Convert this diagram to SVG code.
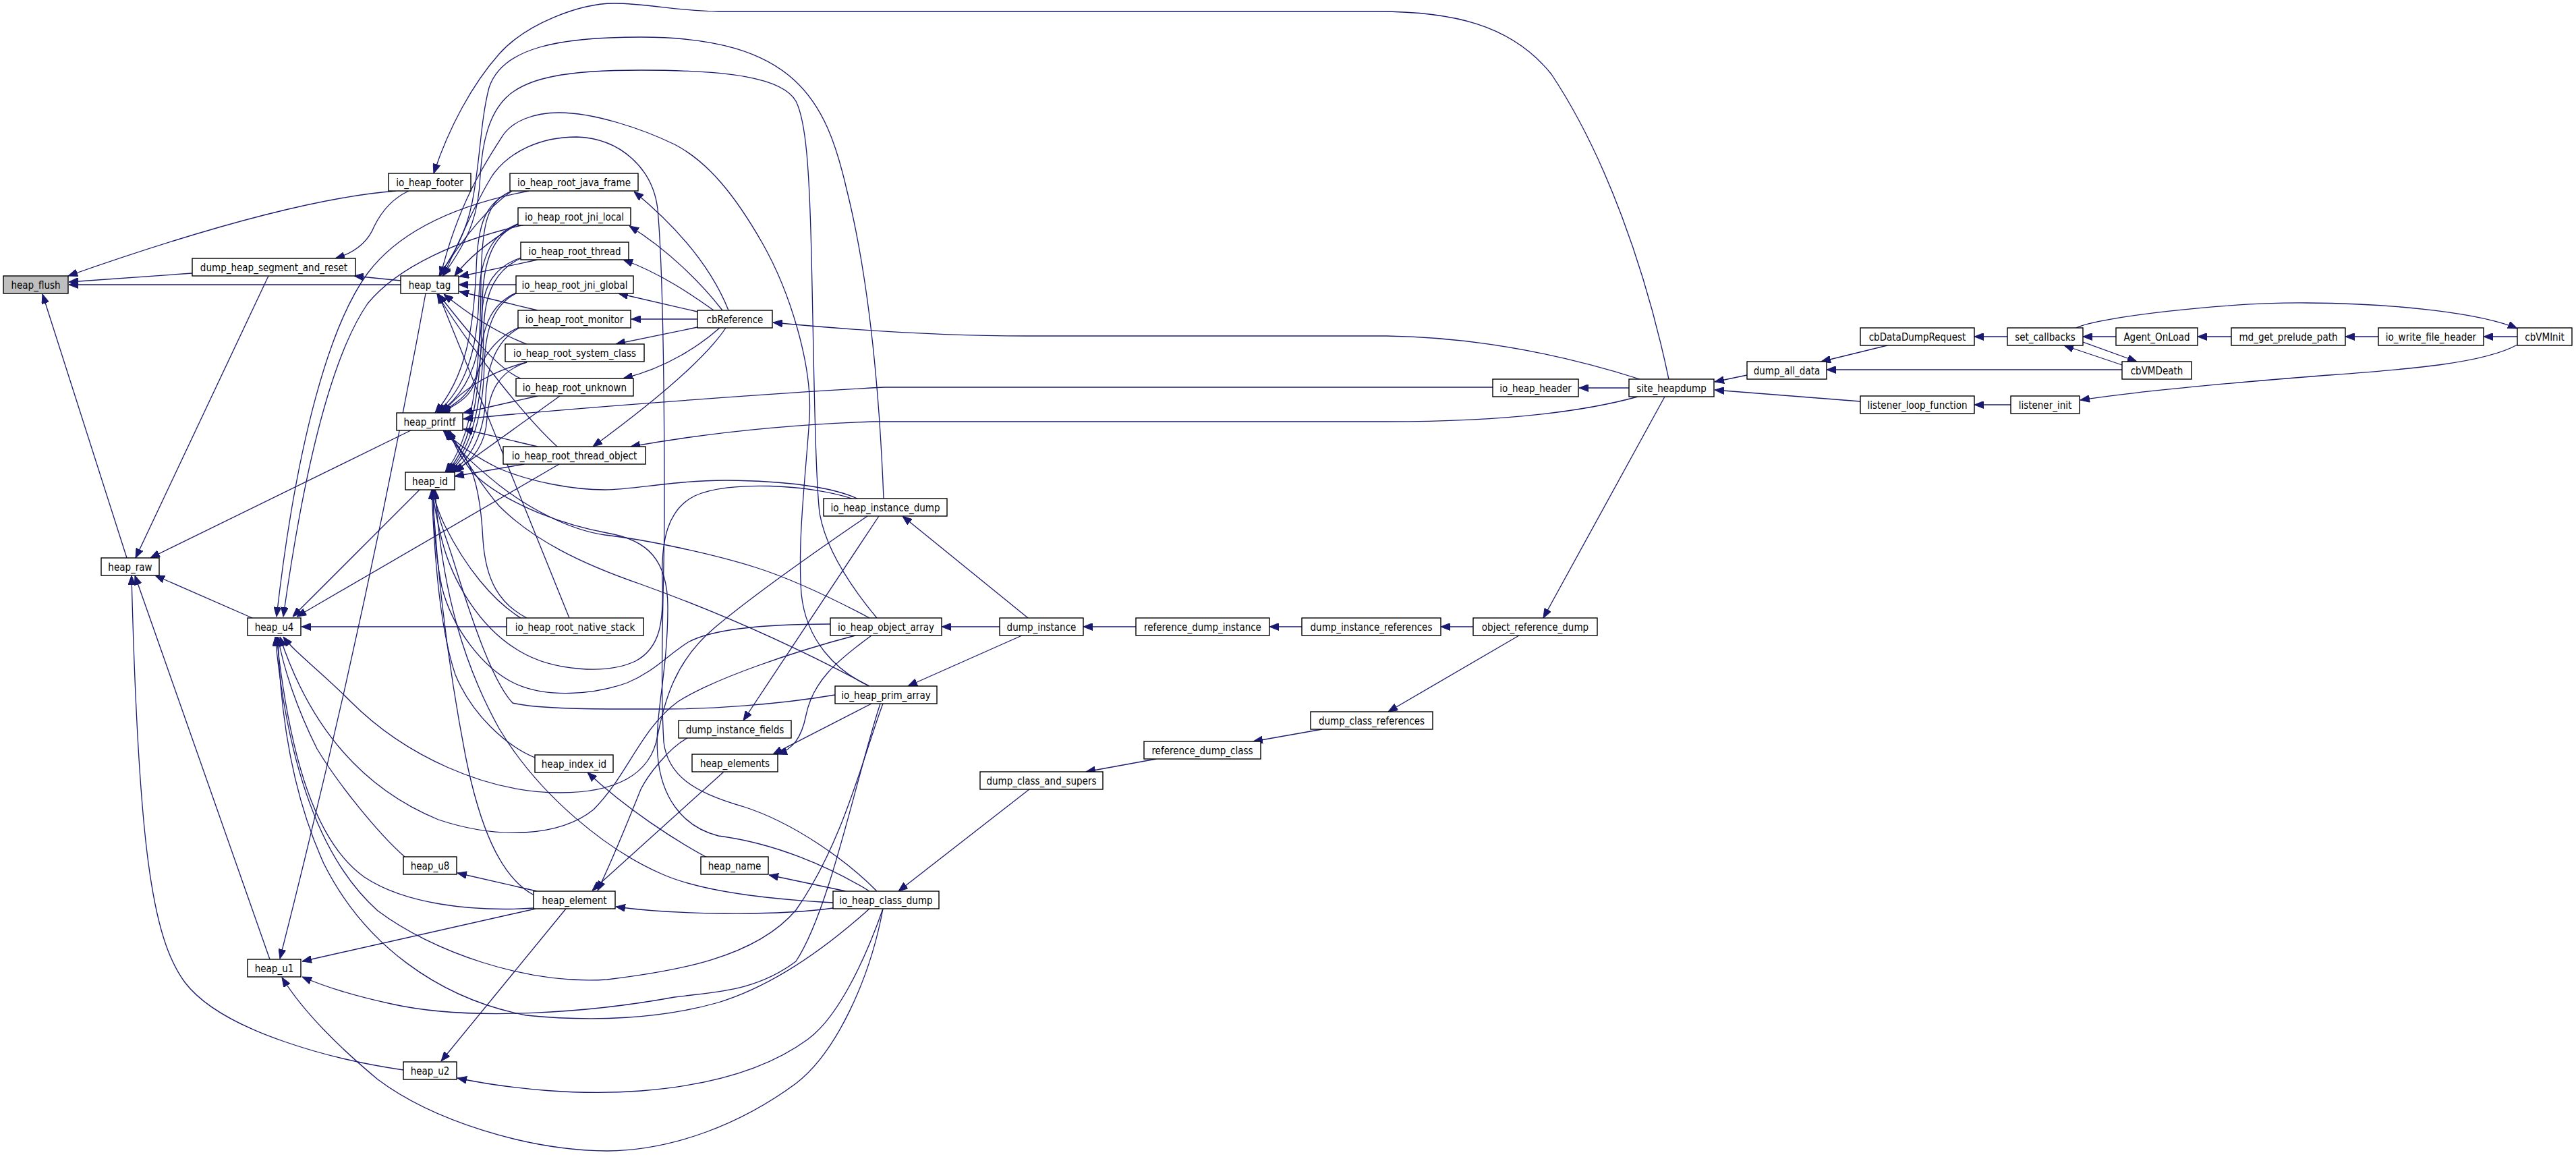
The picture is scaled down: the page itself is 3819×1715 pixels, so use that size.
<svg xmlns="http://www.w3.org/2000/svg" width="3819" height="1715" viewBox="0 0 3819 1715">
<style>
.e{fill:none;stroke:#191970;stroke-width:1.3;marker-end:url(#a)}
.n rect{fill:#fff;stroke:#000;stroke-width:1.4}
.n.g rect{fill:#bfbfbf}
.n text{font-family:"DejaVu Sans Condensed","DejaVu Sans",sans-serif;font-size:15px;text-anchor:middle;fill:#000}
</style>
<defs>
<marker id="a" markerUnits="userSpaceOnUse" markerWidth="14" markerHeight="11" refX="14" refY="5.5" orient="auto">
<path d="M0,0 L14,5.5 L0,11 z" fill="#191970" stroke="#191970" stroke-width="1"/>
</marker>
</defs>
<rect width="3819" height="1715" fill="#fff"/>
<g id="edges">
<path class="e" d="M587,283 Q422,296 101,409"/>
<path class="e" d="M285,405 L102,418"/>
<path class="e" d="M594,422 L102,422"/>
<path class="e" d="M188,827 L63,436"/>
<path class="e" d="M2474,562 C2440,400 2380,230 2300,110 C2240,35 2150,17 2042,17 L1065,17 C1010,17 960,5 910,5 C860,5 780,35 740,80 C700,125 665,190 643,257"/>
<path class="e" d="M606,283 C580,295 565,315 555,335 C545,360 525,375 497,383"/>
<path class="e" d="M594,416 L525,409"/>
<path class="e" d="M398,409 L201,827"/>
<path class="e" d="M609,638 L223,827"/>
<path class="e" d="M374,916 L230,853"/>
<path class="e" d="M400,1422 L200,853"/>
<path class="e" d="M598,1586 C500,1572 330,1530 274,1456 C225,1390 205,1250 195,853"/>
<path class="e" d="M759,283 C720,310 685,355 651,409"/>
<path class="e" d="M771,330 C740,348 700,375 674,409"/>
<path class="e" d="M797,385 L681,410"/>
<path class="e" d="M765,422 L680,422"/>
<path class="e" d="M797,460 L681,432"/>
<path class="e" d="M781,510 C740,495 700,470 658,436"/>
<path class="e" d="M772,561 C740,548 700,500 650,436"/>
<path class="e" d="M826,662 C780,620 700,520 648,436"/>
<path class="e" d="M844,916 L650,436"/>
<path class="e" d="M1310,739 C1303,560 1285,400 1255,280 C1225,150 1180,55 950,55 C830,55 745,70 725,130 C712,180 712,240 700,300 C690,350 670,380 651,409"/>
<path class="e" d="M1300,916 C1270,880 1225,820 1215,760 C1208,700 1206,500 1203,380 C1200,250 1195,180 1180,150 C1160,115 1080,104 950,104 C840,104 780,115 750,145 C725,170 715,210 712,260 C710,310 700,350 656,409"/>
<path class="e" d="M1289,1017 C1240,995 1195,950 1188,880 C1182,800 1195,700 1200,620 C1205,540 1170,430 1130,360 C1090,290 1050,240 1000,214 C950,190 880,167 829,167 C790,167 760,180 746,200 C720,240 680,300 653,409"/>
<path class="e" d="M1300,1321 C1260,1280 1180,1220 1100,1195 C1030,1175 990,1150 984,1100 C978,1000 985,850 985,760 C985,600 983,400 975,310 C968,250 920,205 855,203 C800,203 755,225 730,260 C705,300 680,360 657,409"/>
<path class="e" d="M759,283 C720,300 708,330 706,400 C702,490 690,560 645,612"/>
<path class="e" d="M770,331 C730,345 712,380 710,440 C708,520 690,575 648,612"/>
<path class="e" d="M772,382 C735,395 716,420 714,470 C712,540 690,585 650,612"/>
<path class="e" d="M765,434 C730,450 716,480 712,530 C708,580 690,595 652,612"/>
<path class="e" d="M770,485 C735,500 715,530 705,560 C695,585 680,595 654,612"/>
<path class="e" d="M781,537 C740,547 690,570 656,612"/>
<path class="e" d="M797,587 L687,612"/>
<path class="e" d="M797,662 L687,636"/>
<path class="e" d="M2213,574 L1311,574 C1200,580 900,600 687,621"/>
<path class="e" d="M781,916 C740,895 720,860 716,800 C712,720 700,680 660,638"/>
<path class="e" d="M1271,739 C1240,725 1180,713 1076,712 C1000,712 940,726 897,726 C850,726 790,715 741,695 C710,680 680,660 657,638"/>
<path class="e" d="M1289,916 C1240,890 1180,860 1120,841 C1060,822 960,800 897,793 C840,785 780,750 741,720 C710,695 680,670 660,638"/>
<path class="e" d="M1289,1017 C1220,980 1100,920 950,866 C860,835 790,800 740,750 C710,715 690,680 664,638"/>
<path class="e" d="M1289,1321 C1230,1285 1150,1250 1065,1239 C1010,1225 980,1180 975,1120 C970,1060 990,1000 990,900 C990,830 960,800 900,790 C820,775 740,740 700,700 C685,680 672,660 667,638"/>
<path class="e" d="M759,283 C722,298 714,330 713,420 C712,560 700,650 660,700"/>
<path class="e" d="M770,332 C732,346 716,385 715,450 C714,580 700,660 662,700"/>
<path class="e" d="M772,383 C738,398 718,430 717,490 C716,600 700,665 664,700"/>
<path class="e" d="M765,435 C732,452 720,485 718,540 C716,620 700,670 666,700"/>
<path class="e" d="M770,486 C738,503 722,540 720,590 C718,640 700,680 668,700"/>
<path class="e" d="M781,537 C740,550 725,580 722,620 C720,660 700,685 670,700"/>
<path class="e" d="M830,587 L674,699"/>
<path class="e" d="M777,688 L674,706"/>
<path class="e" d="M772,916 C730,890 690,840 660,780 C650,760 645,745 642,726"/>
<path class="e" d="M793,1123 C750,1105 700,1060 675,1000 C655,940 645,850 640,726"/>
<path class="e" d="M792,1327 C740,1300 710,1220 690,1120 C665,990 648,850 641,726"/>
<path class="e" d="M1263,739 C1200,718 1080,712 1030,735 C990,755 980,800 982,860 C984,920 980,960 942,980 C900,1000 820,995 770,965 C710,930 670,860 655,800 C648,770 643,750 642,726"/>
<path class="e" d="M1231,925 C1150,925 1060,930 1020,952 C985,975 970,995 930,1012 C880,1030 810,1035 763,1013 C715,990 670,930 655,870 C645,820 642,770 643,726"/>
<path class="e" d="M1238,1030 C1150,1045 1050,1051 986,1051 C900,1051 800,1052 760,1042 C730,1010 700,920 675,840 C660,790 645,760 644,726"/>
<path class="e" d="M1235,1338 C1140,1333 1040,1322 980,1295 C900,1260 800,1180 740,1080 C690,990 655,880 645,726"/>
<path class="e" d="M784,283 C670,305 590,345 545,405 C490,480 440,650 410,914"/>
<path class="e" d="M778,333 C680,355 590,395 545,450 C490,530 450,700 420,914"/>
<path class="e" d="M622,726 L434,914"/>
<path class="e" d="M829,688 L440,914"/>
<path class="e" d="M751,929 L447,929"/>
<path class="e" d="M600,1270 C560,1235 500,1160 470,1110 C440,1050 420,990 412,944"/>
<path class="e" d="M792,1346 C700,1352 600,1340 540,1300 C470,1250 430,1130 410,944"/>
<path class="e" d="M1286,765 C1220,810 1120,880 1060,930 C1000,980 985,1040 975,1090 C965,1150 910,1175 830,1175 C720,1175 600,1120 520,1040 C470,990 440,970 420,944"/>
<path class="e" d="M1268,942 C1180,965 1060,1005 1005,1040 C950,1080 930,1150 880,1200 C830,1240 740,1245 650,1215 C540,1170 460,1080 415,944"/>
<path class="e" d="M1309,1043 C1280,1120 1250,1250 1180,1349 C1120,1420 1000,1440 900,1452 C780,1460 640,1410 560,1350 C470,1270 425,1120 408,944"/>
<path class="e" d="M1289,1347 C1230,1400 1150,1460 1065,1486 C980,1510 880,1515 780,1505 C650,1480 540,1400 480,1280 C430,1170 415,1050 412,944"/>
<path class="e" d="M631,435 Q540,930 415,1421"/>
<path class="e" d="M794,1347 L448,1425"/>
<path class="e" d="M1305,1043 C1270,1150 1230,1350 1180,1425 C1120,1470 1060,1470 1000,1478 C880,1500 700,1515 580,1488 C520,1475 480,1462 448,1448"/>
<path class="e" d="M1309,1347 C1290,1450 1240,1560 1180,1606 C1100,1665 1000,1705 900,1706 C780,1705 640,1660 560,1600 C500,1550 450,1500 418,1449"/>
<path class="e" d="M839,1347 L654,1573"/>
<path class="e" d="M1309,1347 C1280,1430 1240,1510 1197,1541 C1130,1590 1040,1610 950,1617 C860,1624 760,1615 678,1598"/>
<path class="e" d="M796,1321 L678,1294"/>
<path class="e" d="M1073,1144 L878,1320"/>
<path class="e" d="M1019,1094 C990,1110 960,1150 950,1170 C930,1220 910,1270 886,1320"/>
<path class="e" d="M1235,1346 C1150,1358 1000,1356 913,1344"/>
<path class="e" d="M1292,1043 C1230,1075 1190,1095 1146,1118"/>
<path class="e" d="M1292,942 C1240,980 1205,1010 1195,1060 C1188,1095 1175,1110 1153,1118"/>
<path class="e" d="M1303,765 L1102,1068"/>
<path class="e" d="M1254,1321 L1140,1297"/>
<path class="e" d="M1048,1271 C1000,1245 930,1200 871,1145"/>
<path class="e" d="M1080,460 C1060,410 1020,350 940,284"/>
<path class="e" d="M1071,460 C1040,420 990,370 933,335"/>
<path class="e" d="M1058,460 C1030,440 980,405 924,385"/>
<path class="e" d="M1034,462 L917,435"/>
<path class="e" d="M1034,473 L936,473"/>
<path class="e" d="M1034,485 L913,510"/>
<path class="e" d="M1067,486 C1040,510 990,545 924,561"/>
<path class="e" d="M1076,486 C1040,540 950,610 879,662"/>
<path class="e" d="M2431,562 C2330,530 2200,500 2055,498 L1521,498 C1380,498 1250,488 1146,478"/>
<path class="e" d="M2415,575 L2341,575"/>
<path class="e" d="M2428,588 C2330,615 2200,625 2055,625 L1294,625 C1150,630 1030,645 935,662"/>
<path class="e" d="M2468,588 L2288,916"/>
<path class="e" d="M2184,929 L2136,929"/>
<path class="e" d="M1930,929 L1882,929"/>
<path class="e" d="M1684,929 L1606,929"/>
<path class="e" d="M2252,942 L2058,1055"/>
<path class="e" d="M1960,1081 L1858,1099"/>
<path class="e" d="M1714,1125 L1610,1144"/>
<path class="e" d="M1526,1170 L1332,1321"/>
<path class="e" d="M1482,929 L1396,929"/>
<path class="e" d="M1515,942 L1346,1017"/>
<path class="e" d="M1524,916 L1338,765"/>
<path class="e" d="M2590,556 L2542,566"/>
<path class="e" d="M2758,595 L2542,578"/>
<path class="e" d="M2798,512 L2700,536"/>
<path class="e" d="M3146,548 L2708,548"/>
<path class="e" d="M2976,499 L2927,499"/>
<path class="e" d="M2981,600 L2927,600"/>
<path class="e" d="M3137,499 L3088,499"/>
<path class="e" d="M3146,541 L3060,512"/>
<path class="e" d="M3088,507 L3168,536"/>
<path class="e" d="M3308,499 L3258,499"/>
<path class="e" d="M3526,499 L3477,499"/>
<path class="e" d="M3732,499 L3682,499"/>
<path class="e" d="M3078,486 C3110,470 3300,448 3420,449 C3560,450 3680,465 3732,487"/>
<path class="e" d="M3732,511 C3680,540 3560,548 3440,557 C3300,568 3170,580 3084,593"/>
</g>
<g id="nodes">
<g id="heap_flush" class="n g"><rect x="5" y="409" width="96" height="26"/><text x="53" y="427.5">heap_flush</text></g>
<g id="io_heap_footer" class="n"><rect x="576" y="257" width="122" height="26"/><text x="637" y="275.5">io_heap_footer</text></g>
<g id="dump_heap_segment_and_reset" class="n"><rect x="285" y="383" width="242" height="26"/><text x="406" y="401.5">dump_heap_segment_and_reset</text></g>
<g id="heap_tag" class="n"><rect x="594" y="409" width="86" height="26"/><text x="637" y="427.5">heap_tag</text></g>
<g id="heap_printf" class="n"><rect x="588" y="612" width="98" height="26"/><text x="637" y="630.5">heap_printf</text></g>
<g id="heap_id" class="n"><rect x="601" y="700" width="73" height="26"/><text x="637.5" y="718.5">heap_id</text></g>
<g id="heap_raw" class="n"><rect x="150" y="827" width="86" height="26"/><text x="193" y="845.5">heap_raw</text></g>
<g id="heap_u4" class="n"><rect x="367" y="916" width="79" height="26"/><text x="406.5" y="934.5">heap_u4</text></g>
<g id="heap_u1" class="n"><rect x="367" y="1422" width="79" height="26"/><text x="406.5" y="1440.5">heap_u1</text></g>
<g id="heap_u8" class="n"><rect x="598" y="1270" width="79" height="26"/><text x="637.5" y="1288.5">heap_u8</text></g>
<g id="heap_u2" class="n"><rect x="598" y="1574" width="79" height="26"/><text x="637.5" y="1592.5">heap_u2</text></g>
<g id="io_heap_root_java_frame" class="n"><rect x="756" y="257" width="190" height="26"/><text x="851" y="275.5">io_heap_root_java_frame</text></g>
<g id="io_heap_root_jni_local" class="n"><rect x="768" y="308" width="167" height="26"/><text x="851.5" y="326.5">io_heap_root_jni_local</text></g>
<g id="io_heap_root_thread" class="n"><rect x="772" y="359" width="160" height="26"/><text x="852" y="377.5">io_heap_root_thread</text></g>
<g id="io_heap_root_jni_global" class="n"><rect x="765" y="409" width="174" height="26"/><text x="852" y="427.5">io_heap_root_jni_global</text></g>
<g id="io_heap_root_monitor" class="n"><rect x="768" y="460" width="167" height="26"/><text x="851.5" y="478.5">io_heap_root_monitor</text></g>
<g id="io_heap_root_system_class" class="n"><rect x="749" y="510" width="206" height="26"/><text x="852" y="528.5">io_heap_root_system_class</text></g>
<g id="io_heap_root_unknown" class="n"><rect x="765" y="561" width="174" height="26"/><text x="852" y="579.5">io_heap_root_unknown</text></g>
<g id="io_heap_root_thread_object" class="n"><rect x="746" y="662" width="211" height="26"/><text x="851.5" y="680.5">io_heap_root_thread_object</text></g>
<g id="io_heap_root_native_stack" class="n"><rect x="751" y="916" width="203" height="26"/><text x="852.5" y="934.5">io_heap_root_native_stack</text></g>
<g id="heap_index_id" class="n"><rect x="793" y="1119" width="116" height="26"/><text x="851" y="1137.5">heap_index_id</text></g>
<g id="heap_element" class="n"><rect x="791" y="1321" width="121" height="26"/><text x="851.5" y="1339.5">heap_element</text></g>
<g id="cbReference" class="n"><rect x="1034" y="460" width="111" height="26"/><text x="1089.5" y="478.5">cbReference</text></g>
<g id="dump_instance_fields" class="n"><rect x="1006" y="1068" width="167" height="26"/><text x="1089.5" y="1086.5">dump_instance_fields</text></g>
<g id="heap_elements" class="n"><rect x="1026" y="1118" width="127" height="26"/><text x="1089.5" y="1136.5">heap_elements</text></g>
<g id="heap_name" class="n"><rect x="1039" y="1270" width="100" height="26"/><text x="1089" y="1288.5">heap_name</text></g>
<g id="io_heap_instance_dump" class="n"><rect x="1221" y="739" width="183" height="26"/><text x="1312.5" y="757.5">io_heap_instance_dump</text></g>
<g id="io_heap_object_array" class="n"><rect x="1231" y="916" width="165" height="26"/><text x="1313.5" y="934.5">io_heap_object_array</text></g>
<g id="io_heap_prim_array" class="n"><rect x="1238" y="1017" width="151" height="26"/><text x="1313.5" y="1035.5">io_heap_prim_array</text></g>
<g id="io_heap_class_dump" class="n"><rect x="1235" y="1321" width="157" height="26"/><text x="1313.5" y="1339.5">io_heap_class_dump</text></g>
<g id="dump_instance" class="n"><rect x="1482" y="916" width="124" height="26"/><text x="1544" y="934.5">dump_instance</text></g>
<g id="dump_class_and_supers" class="n"><rect x="1453" y="1144" width="182" height="26"/><text x="1544" y="1162.5">dump_class_and_supers</text></g>
<g id="reference_dump_instance" class="n"><rect x="1684" y="916" width="198" height="26"/><text x="1783" y="934.5">reference_dump_instance</text></g>
<g id="reference_dump_class" class="n"><rect x="1696" y="1099" width="173" height="26"/><text x="1782.5" y="1117.5">reference_dump_class</text></g>
<g id="dump_instance_references" class="n"><rect x="1930" y="916" width="206" height="26"/><text x="2033" y="934.5">dump_instance_references</text></g>
<g id="dump_class_references" class="n"><rect x="1943" y="1055" width="181" height="26"/><text x="2033.5" y="1073.5">dump_class_references</text></g>
<g id="object_reference_dump" class="n"><rect x="2184" y="916" width="184" height="26"/><text x="2276" y="934.5">object_reference_dump</text></g>
<g id="io_heap_header" class="n"><rect x="2213" y="562" width="127" height="26"/><text x="2276.5" y="580.5">io_heap_header</text></g>
<g id="site_heapdump" class="n"><rect x="2415" y="562" width="126" height="26"/><text x="2478" y="580.5">site_heapdump</text></g>
<g id="dump_all_data" class="n"><rect x="2590" y="536" width="118" height="26"/><text x="2649" y="554.5">dump_all_data</text></g>
<g id="cbDataDumpRequest" class="n"><rect x="2758" y="486" width="169" height="26"/><text x="2842.5" y="504.5">cbDataDumpRequest</text></g>
<g id="listener_loop_function" class="n"><rect x="2758" y="587" width="169" height="26"/><text x="2842.5" y="605.5">listener_loop_function</text></g>
<g id="set_callbacks" class="n"><rect x="2976" y="486" width="112" height="26"/><text x="3032" y="504.5">set_callbacks</text></g>
<g id="listener_init" class="n"><rect x="2981" y="587" width="102" height="26"/><text x="3032" y="605.5">listener_init</text></g>
<g id="Agent_OnLoad" class="n"><rect x="3137" y="486" width="121" height="26"/><text x="3197.5" y="504.5">Agent_OnLoad</text></g>
<g id="cbVMDeath" class="n"><rect x="3146" y="536" width="103" height="26"/><text x="3197.5" y="554.5">cbVMDeath</text></g>
<g id="md_get_prelude_path" class="n"><rect x="3308" y="486" width="169" height="26"/><text x="3392.5" y="504.5">md_get_prelude_path</text></g>
<g id="io_write_file_header" class="n"><rect x="3526" y="486" width="156" height="26"/><text x="3604" y="504.5">io_write_file_header</text></g>
<g id="cbVMInit" class="n"><rect x="3732" y="486" width="81" height="26"/><text x="3772.5" y="504.5">cbVMInit</text></g>
</g>
</svg>
